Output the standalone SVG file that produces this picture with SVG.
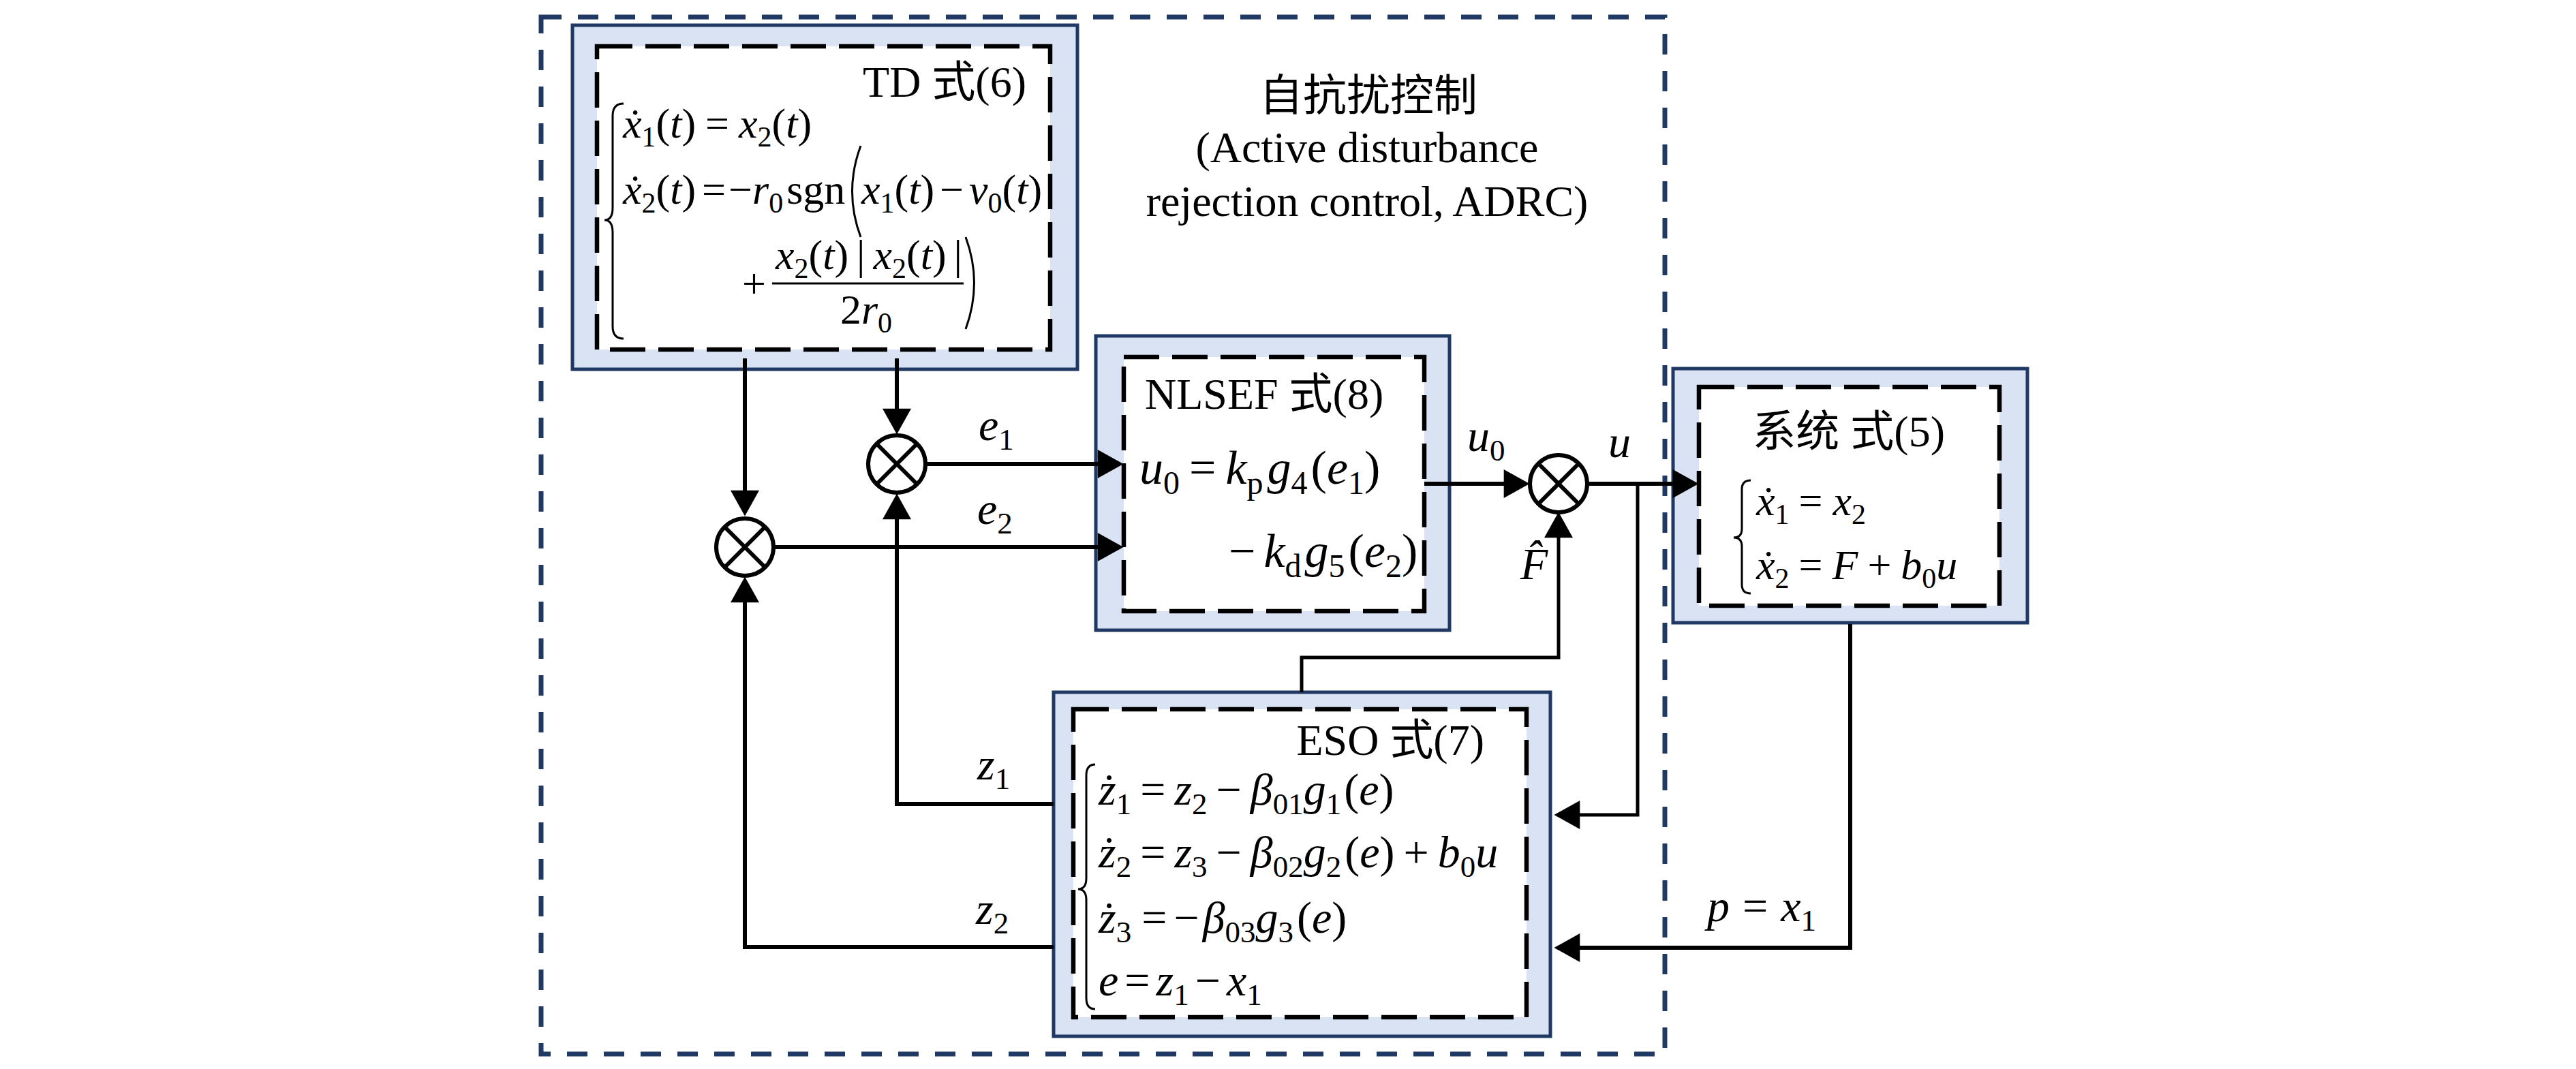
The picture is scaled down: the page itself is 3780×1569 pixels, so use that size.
<svg xmlns="http://www.w3.org/2000/svg" width="3780" height="1569" viewBox="0 0 3780 1569">
<style>
.t{font-family:"Liberation Serif","Noto Sans CJK SC",serif;font-size:64px;fill:#000}
.m{font-family:"Liberation Serif","DejaVu Serif",serif;font-size:62px;fill:#000}
.big{font-size:66px}
.nl{font-size:70px}
.i{font-style:italic}
.s{font-size:42px}
.big .s{font-size:45px}
.nl .s{font-size:48px}
.outer{fill:#dae3f3;stroke:#1f3864;stroke-width:5}
.inner{fill:#fff;stroke:#000;stroke-width:6.5;stroke-dasharray:52 19}
.delim{fill:none;stroke:#000;stroke-width:3}
.sum circle{fill:#fff;stroke:#000;stroke-width:6}
.sum path{stroke:#000;stroke-width:6;fill:none}
</style>
<defs>
<marker id="ah" markerUnits="userSpaceOnUse" markerWidth="40" markerHeight="42" refX="26" refY="20" orient="auto" viewBox="0 0 36 40">
<path d="M0,0 L36,20 L0,40 z" fill="#000"/>
</marker>
</defs>
<rect width="3780" height="1569" fill="#fff"/>

<g id="adrc-frame">
<rect x="794" y="25" width="1649" height="1522" fill="none" stroke="#1f3864" stroke-width="7" stroke-dasharray="30 24"/>
<text class="t" x="2008" y="162" text-anchor="middle" font-size="63">自抗扰控制</text>
<text class="t" x="2006" y="238" text-anchor="middle">(Active disturbance</text>
<text class="t" x="2006" y="317" text-anchor="middle">rejection control, ADRC)</text>
</g>

<g id="td">
<rect class="outer" x="840" y="37" width="741" height="505"/>
<rect class="inner" x="876" y="68" width="665" height="445"/>
<text class="t" x="1506" y="142" text-anchor="end">TD 式(6)</text>
<path class="delim" d="M915,152 Q899,152 899,170 L899,305 Q899,323 887,323 Q899,323 899,341 L899,479 Q899,497 915,497"/>
<text class="m" x="914" y="202"><tspan class="i">ẋ</tspan><tspan class="s" dy="13">1</tspan><tspan dy="-13">(</tspan><tspan class="i">t</tspan>)<tspan dx="14">=</tspan><tspan class="i" dx="14">x</tspan><tspan class="s" dy="13">2</tspan><tspan dy="-13">(</tspan><tspan class="i">t</tspan>)</text>
<text class="m" x="914" y="299"><tspan class="i">ẋ</tspan><tspan class="s" dy="13">2</tspan><tspan dy="-13">(</tspan><tspan class="i">t</tspan>)<tspan dx="9">=</tspan><tspan dx="4">−</tspan><tspan class="i">r</tspan><tspan class="s" dy="13">0</tspan><tspan dy="-13" dx="5">sgn</tspan></text>
<path class="delim" d="M1263,214 Q1238,281 1263,348"/>
<text class="m" x="1264" y="299"><tspan class="i">x</tspan><tspan class="s" dy="13">1</tspan><tspan dy="-13">(</tspan><tspan class="i">t</tspan>)<tspan dx="8">−</tspan><tspan class="i" dx="8">v</tspan><tspan class="s" dy="13">0</tspan><tspan dy="-13">(</tspan><tspan class="i">t</tspan>)</text>
<text class="m" x="1089" y="437">+</text>
<text class="m" x="1138" y="395"><tspan class="i">x</tspan><tspan class="s" dy="13">2</tspan><tspan dy="-13">(</tspan><tspan class="i">t</tspan>)<tspan dx="12">|</tspan><tspan class="i" dx="12">x</tspan><tspan class="s" dy="13">2</tspan><tspan dy="-13">(</tspan><tspan class="i">t</tspan>)<tspan dx="11">|</tspan></text>
<path d="M1133,416 H1414" stroke="#000" stroke-width="3"/>
<text class="m" x="1271" y="475" text-anchor="middle">2<tspan class="i">r</tspan><tspan class="s" dy="13">0</tspan></text>
<path class="delim" d="M1417,348 Q1442,415 1417,483"/>
</g>

<g id="nlsef">
<rect class="outer" x="1608" y="493" width="519" height="432"/>
<rect class="inner" x="1649" y="524" width="441" height="373"/>
<text class="t" x="1680" y="600">NLSEF 式(8)</text>
<text class="m nl" x="1672" y="710"><tspan class="i">u</tspan><tspan class="s" dy="15">0</tspan><tspan dy="-15" dx="14">=</tspan><tspan class="i" dx="14">k</tspan><tspan class="s" dy="15">p</tspan><tspan class="i" dy="-15" dx="6">g</tspan><tspan class="s" dy="15">4</tspan><tspan dy="-15" dx="5">(</tspan><tspan class="i">e</tspan><tspan class="s" dy="15">1</tspan><tspan dy="-15">)</tspan></text>
<text class="m nl" x="1803" y="832">−<tspan class="i" dx="12">k</tspan><tspan class="s" dy="15">d</tspan><tspan class="i" dy="-15" dx="5">g</tspan><tspan class="s" dy="15">5</tspan><tspan dy="-15" dx="5">(</tspan><tspan class="i">e</tspan><tspan class="s" dy="15">2</tspan><tspan dy="-15">)</tspan></text>
</g>

<g id="system">
<rect class="outer" x="2455" y="541" width="520" height="373"/>
<rect class="inner" x="2493" y="568" width="441" height="321"/>
<text class="t" x="2854" y="655" text-anchor="end">系统 式(5)</text>
<path class="delim" d="M2569,705 Q2556,705 2556,718 L2556,776 Q2556,789 2544,789 Q2556,789 2556,802 L2556,858 Q2556,871 2569,871"/>
<text class="m" x="2577" y="756"><tspan class="i">ẋ</tspan><tspan class="s" dy="13">1</tspan><tspan dy="-13" dx="14">=</tspan><tspan class="i" dx="15">x</tspan><tspan class="s" dy="13">2</tspan></text>
<text class="m" x="2577" y="850"><tspan class="i">ẋ</tspan><tspan class="s" dy="13">2</tspan><tspan dy="-13" dx="14">=</tspan><tspan class="i" dx="14">F</tspan><tspan dx="14">+</tspan><tspan class="i" dx="14">b</tspan><tspan class="s" dy="13">0</tspan><tspan class="i" dy="-13">u</tspan></text>
</g>

<g id="eso">
<rect class="outer" x="1546" y="1016" width="729" height="505"/>
<rect class="inner" x="1575" y="1041" width="665" height="452"/>
<text class="t" x="2178" y="1108" text-anchor="end">ESO 式(7)</text>
<path class="delim" d="M1607,1122 Q1594,1122 1594,1138 L1594,1289 Q1594,1305 1582,1305 Q1594,1305 1594,1321 L1594,1465 Q1594,1481 1607,1481"/>
<text class="m big" x="1612" y="1181"><tspan class="i">ż</tspan><tspan class="s" dy="14">1</tspan><tspan dy="-14" dx="13">=</tspan><tspan class="i" dx="13">z</tspan><tspan class="s" dy="14">2</tspan><tspan dy="-14" dx="13">−</tspan><tspan class="i" dx="13">β</tspan><tspan class="s" dy="14">01</tspan><tspan class="i" dy="-14">g</tspan><tspan class="s" dy="14">1</tspan><tspan dy="-14" dx="4">(</tspan><tspan class="i">e</tspan>)</text>
<text class="m big" x="1612" y="1273"><tspan class="i">ż</tspan><tspan class="s" dy="14">2</tspan><tspan dy="-14" dx="13">=</tspan><tspan class="i" dx="13">z</tspan><tspan class="s" dy="14">3</tspan><tspan dy="-14" dx="13">−</tspan><tspan class="i" dx="13">β</tspan><tspan class="s" dy="14">02</tspan><tspan class="i" dy="-14">g</tspan><tspan class="s" dy="14">2</tspan><tspan dy="-14" dx="5">(</tspan><tspan class="i">e</tspan>)<tspan dx="13">+</tspan><tspan class="i" dx="13">b</tspan><tspan class="s" dy="14">0</tspan><tspan class="i" dy="-14">u</tspan></text>
<text class="m big" x="1612" y="1369"><tspan class="i">ż</tspan><tspan class="s" dy="14">3</tspan><tspan dy="-14" dx="15">=</tspan><tspan dx="10">−</tspan><tspan class="i" dx="5">β</tspan><tspan class="s" dy="14">03</tspan><tspan class="i" dy="-14">g</tspan><tspan class="s" dy="14">3</tspan><tspan dy="-14" dx="5">(</tspan><tspan class="i">e</tspan>)</text>
<text class="m big" x="1612" y="1461"><tspan class="i">e</tspan><tspan dx="9">=</tspan><tspan class="i" dx="9">z</tspan><tspan class="s" dy="14">1</tspan><tspan dy="-14" dx="9">−</tspan><tspan class="i" dx="9">x</tspan><tspan class="s" dy="14">1</tspan></text>
</g>

<g id="sum1" class="sum">
<circle cx="1316" cy="681" r="42"/>
<path d="M1286,651 L1346,711 M1346,651 L1286,711"/>
</g>
<g id="sum2" class="sum">
<circle cx="1093" cy="803" r="42"/>
<path d="M1063,773 L1123,833 M1123,773 L1063,833"/>
</g>
<g id="sum3" class="sum">
<circle cx="2287" cy="710" r="42"/>
<path d="M2257,680 L2317,740 M2317,680 L2257,740"/>
</g>

<g id="connectors" fill="none" stroke="#000" stroke-width="6">
<path d="M1093,526 V747" marker-end="url(#ah)"/>
<path d="M1316,526 V627" marker-end="url(#ah)"/>
<path d="M1360,681 H1638" marker-end="url(#ah)"/>
<path d="M1137,803 H1638" marker-end="url(#ah)"/>
<path d="M2090,710 H2234" marker-end="url(#ah)"/>
<path d="M2330,710 H2482" marker-end="url(#ah)"/>
<path d="M2403,710 V1196 H2291" stroke-width="5" marker-end="url(#ah)"/>
<path d="M2715,916 V1391 H2291" marker-end="url(#ah)"/>
<path d="M1910,1016 V965 H2287 V762" stroke-width="5" marker-end="url(#ah)"/>
<path d="M1546,1180 H1316 V735" marker-end="url(#ah)"/>
<path d="M1546,1390 H1093 V857" marker-end="url(#ah)"/>
</g>

<g id="labels">
<text class="m big" x="1436" y="646"><tspan class="i">e</tspan><tspan class="s" dy="14">1</tspan></text>
<text class="m big" x="1434" y="769"><tspan class="i">e</tspan><tspan class="s" dy="14">2</tspan></text>
<text class="m big" x="2153" y="662"><tspan class="i">u</tspan><tspan class="s" dy="14">0</tspan></text>
<text class="m big" x="2360" y="671"><tspan class="i">u</tspan></text>
<text class="m big" x="2231" y="850"><tspan class="i">F̂</tspan></text>
<text class="m big" x="1434" y="1144"><tspan class="i">z</tspan><tspan class="s" dy="14">1</tspan></text>
<text class="m big" x="1432" y="1356"><tspan class="i">z</tspan><tspan class="s" dy="14">2</tspan></text>
<text class="m big" x="2505" y="1352"><tspan class="i">p</tspan><tspan dx="19">=</tspan><tspan class="i" dx="19">x</tspan><tspan class="s" dy="14">1</tspan></text>
</g>
</svg>
